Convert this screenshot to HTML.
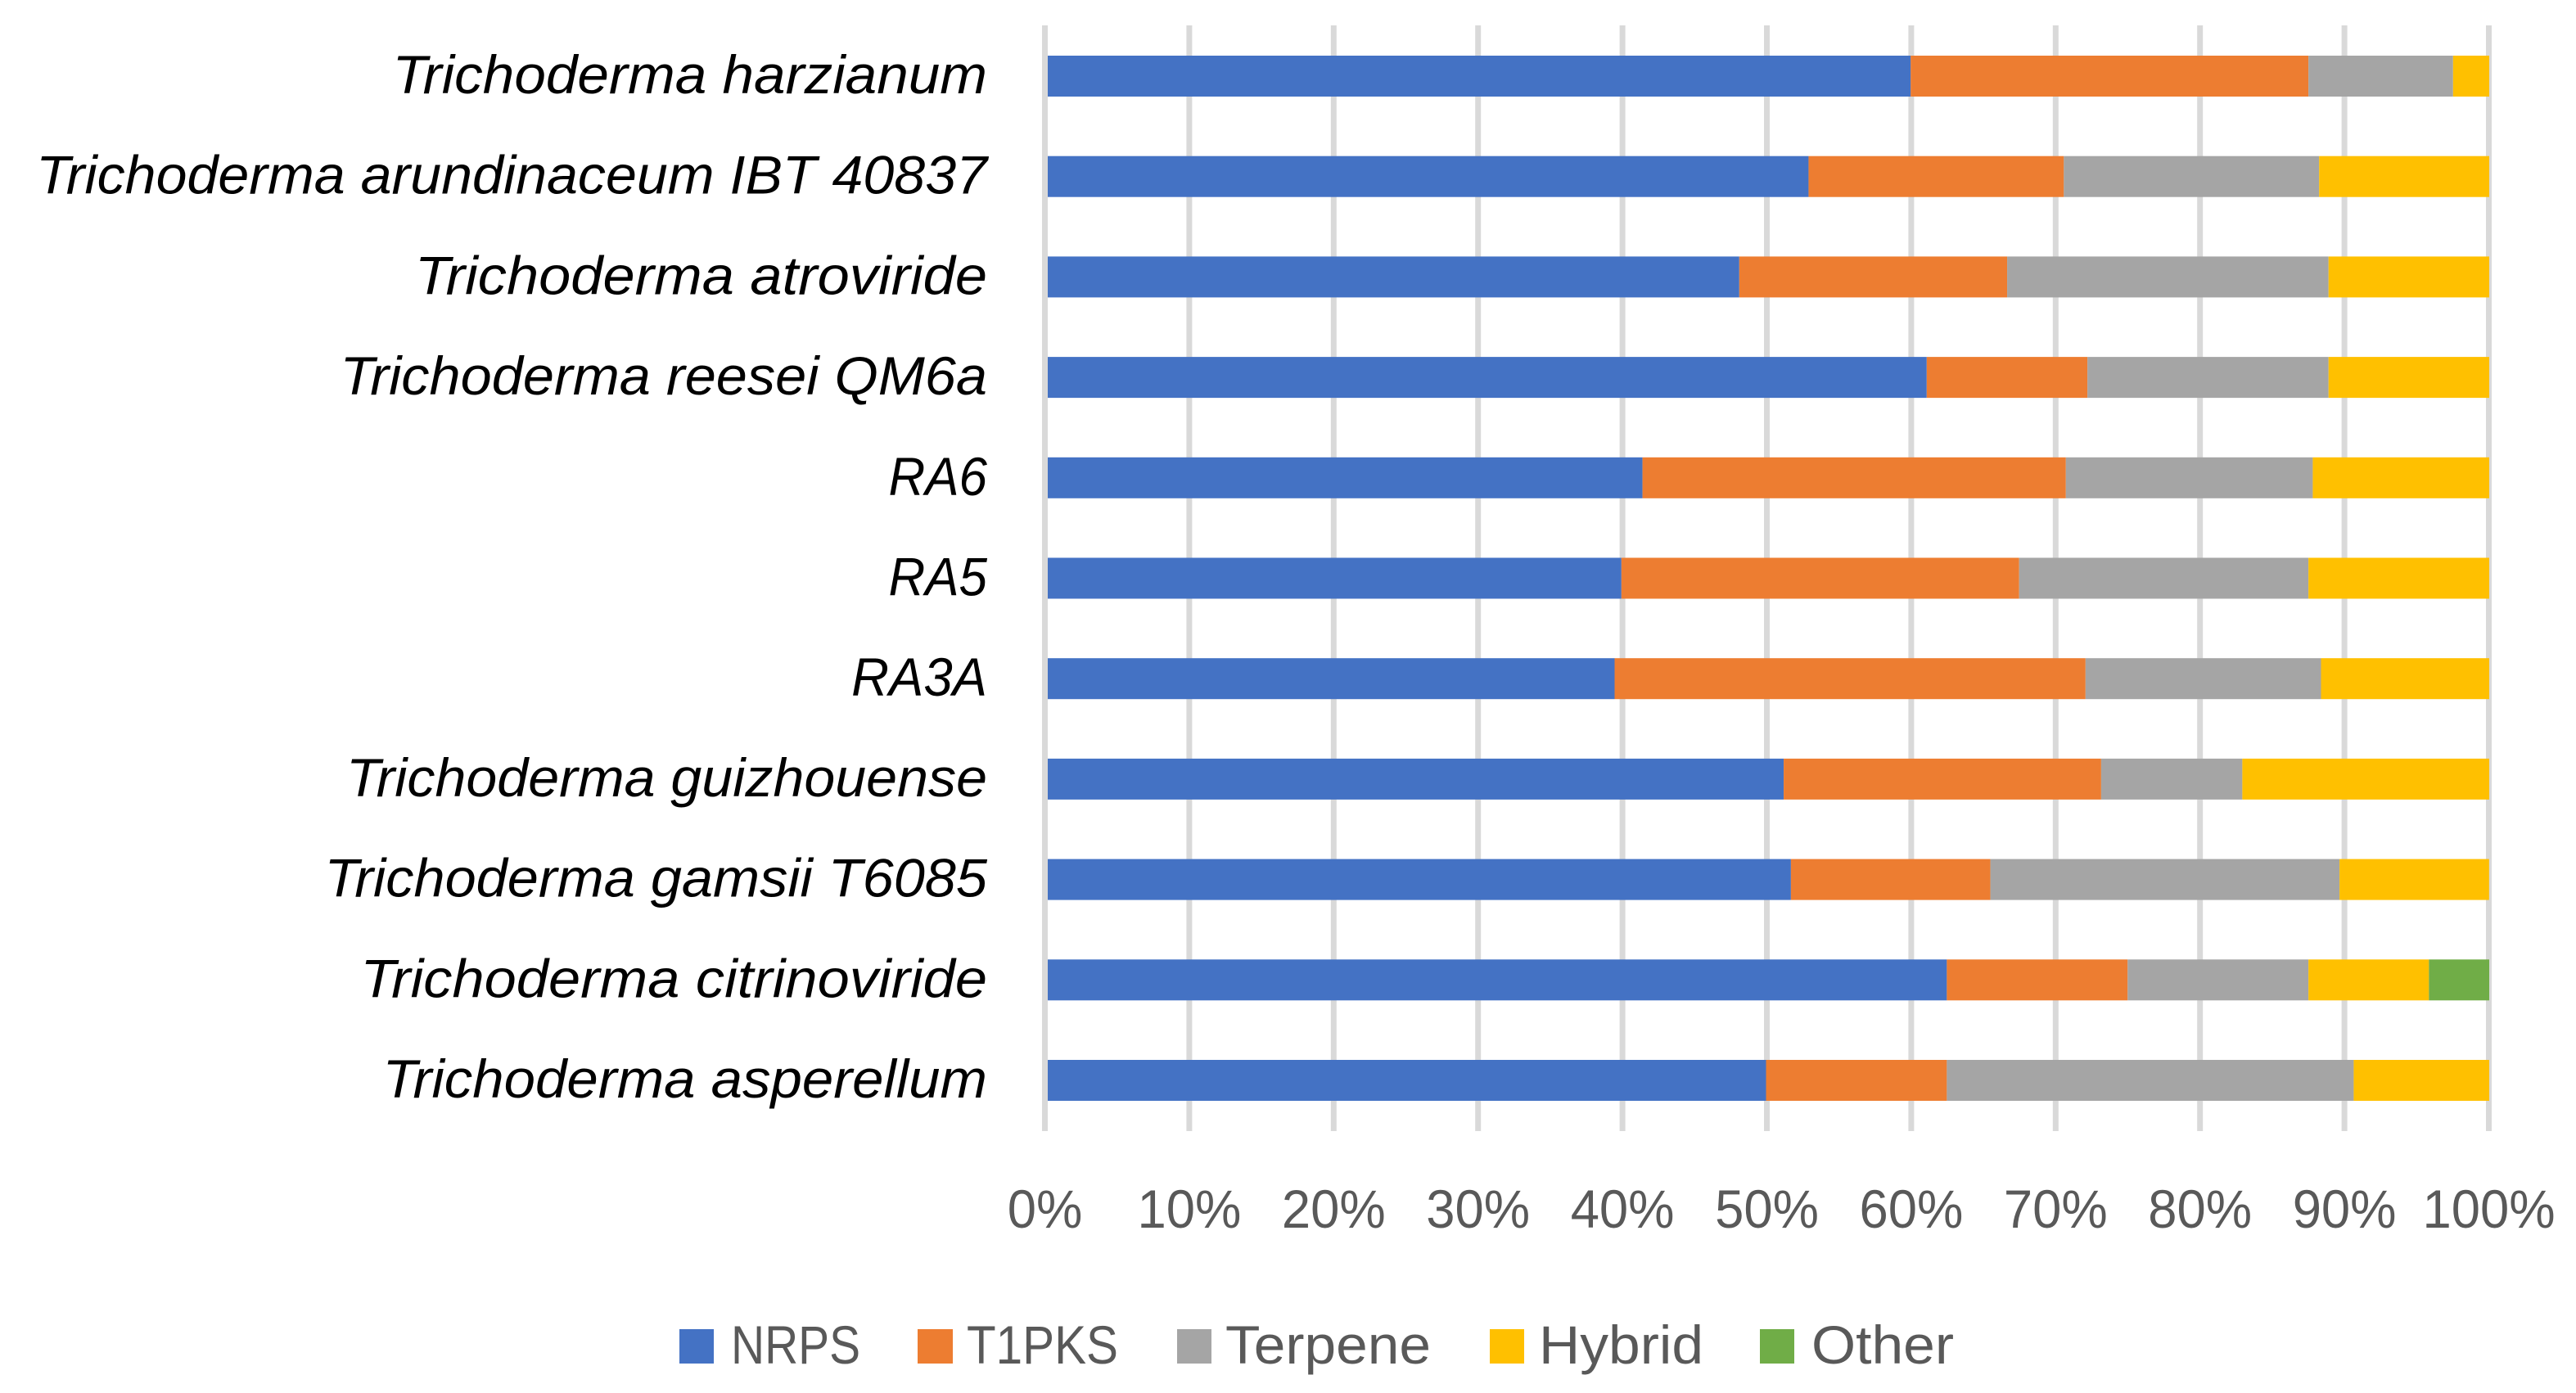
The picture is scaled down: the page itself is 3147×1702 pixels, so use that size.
<!DOCTYPE html>
<html lang="en">
<head>
<meta charset="utf-8">
<title>Biosynthetic gene cluster composition by Trichoderma strain</title>
<style>
  html, body { margin: 0; padding: 0; background: #ffffff; }
  svg { display: block; }
  text { font-family: "Liberation Sans", sans-serif; }
</style>
</head>
<body>
<svg id="chart" xmlns="http://www.w3.org/2000/svg" width="3147" height="1702" viewBox="0 0 3147 1702">
  <rect x="0" y="0" width="3147" height="1702" fill="#ffffff"/>
  <g id="gridlines"></g>
  <g id="bars"></g>
  <g id="axis-line"></g>
  <g id="category-labels"></g>
  <g id="value-labels"></g>
  <g font-size="66" fill="#595959">
    <g>
      <rect x="830" y="1624" width="42" height="42" fill="#4472c4"/>
      <text x="893" y="1666" textLength="158" lengthAdjust="spacingAndGlyphs">NRPS</text>
    </g>
    <g>
      <rect x="1121" y="1624" width="43" height="42" fill="#ed7d31"/>
      <text x="1181" y="1666" textLength="185" lengthAdjust="spacingAndGlyphs">T1PKS</text>
    </g>
    <g>
      <rect x="1438" y="1624" width="42" height="42" fill="#a5a5a5"/>
      <text x="1497" y="1666" textLength="251" lengthAdjust="spacingAndGlyphs">Terpene</text>
    </g>
    <g>
      <rect x="1820" y="1624" width="42" height="42" fill="#ffc000"/>
      <text x="1880" y="1666" textLength="201" lengthAdjust="spacingAndGlyphs">Hybrid</text>
    </g>
    <g>
      <rect x="2150" y="1624" width="42" height="42" fill="#70ad47"/>
      <text x="2213" y="1666" textLength="174" lengthAdjust="spacingAndGlyphs">Other</text>
    </g>
  </g>
</svg>
<script>
const categories = [
  "Trichoderma harzianum",
  "Trichoderma arundinaceum IBT 40837",
  "Trichoderma atroviride",
  "Trichoderma reesei QM6a",
  "RA6",
  "RA5",
  "RA3A",
  "Trichoderma guizhouense",
  "Trichoderma gamsii T6085",
  "Trichoderma citrinoviride",
  "Trichoderma asperellum"
];
const nrps    = [60.0, 52.94, 48.15, 61.11, 41.46, 40.0, 39.53, 51.22, 51.72, 62.5, 50.0];
const t1pks   = [27.5, 17.65, 18.52, 11.11, 29.27, 27.5, 32.56, 21.95, 13.79, 12.5, 12.5];
const terpene = [10.0, 17.65, 22.22, 16.67, 17.07, 20.0, 16.28, 9.76, 24.14, 12.5, 28.13];
const hybrid  = [2.5, 11.76, 11.11, 11.11, 12.2, 12.5, 11.63, 17.07, 10.34, 8.33, 9.37];
const other   = [0, 0, 0, 0, 0, 0, 0, 0, 0, 4.17, 0];
const tickValues = [0, 10, 20, 30, 40, 50, 60, 70, 80, 90, 100];
const tickLabels = ["0%", "10%", "20%", "30%", "40%", "50%", "60%", "70%", "80%", "90%", "100%"];

const SVG_NS = "http://www.w3.org/2000/svg";
const seriesList = [
  { key: "nrps", values: nrps, color: "#4472c4" },
  { key: "t1pks", values: t1pks, color: "#ed7d31" },
  { key: "terpene", values: terpene, color: "#a5a5a5" },
  { key: "hybrid", values: hybrid, color: "#ffc000" },
  { key: "other", values: other, color: "#70ad47" }
];

function xBar(v) { return 1274 + v * 17.67; }
function xGrid(v) { return 1276.5 + v * 17.64; }
function yBand(i) { return 68 + i * 122.7; }
const BAR_HEIGHT = 50;

/* Horizontal fit of the substitute font to the original label widths. */
function labelStretch(name) {
  const fit = {
    "Trichoderma harzianum": 1.05,
    "Trichoderma arundinaceum IBT 40837": 1.033,
    "Trichoderma atroviride": 1.067,
    "Trichoderma reesei QM6a": 1.038,
    "RA6": 0.939,
    "RA5": 0.939,
    "RA3A": 0.962,
    "Trichoderma guizhouense": 1.033,
    "Trichoderma gamsii T6085": 1.038,
    "Trichoderma citrinoviride": 1.067,
    "Trichoderma asperellum": 1.045
  };
  return fit[name] || 1.033;
}

const gridGroup = document.getElementById("gridlines");
const barGroup = document.getElementById("bars");
const axisGroup = document.getElementById("axis-line");
const catGroup = document.getElementById("category-labels");
const valGroup = document.getElementById("value-labels");

tickValues.forEach(function (v, i) {
  const line = document.createElementNS(SVG_NS, "rect");
  
  
  line.setAttribute("x", xGrid(v) - 3.5);
  line.setAttribute("y", 31);
  line.setAttribute("width", 7);
  line.setAttribute("height", 1351);
  line.setAttribute("fill", "#d9d9d9");
  (v === 0 ? axisGroup : gridGroup).appendChild(line);

  const label = document.createElementNS(SVG_NS, "text");
  
  
  label.setAttribute("transform", "translate(" + xGrid(v) + ",1500) scale(0.96,1)");
  label.setAttribute("text-anchor", "middle");
  label.setAttribute("font-size", 66);
  label.setAttribute("fill", "#595959");
  label.textContent = tickLabels[i];
  valGroup.appendChild(label);
});

categories.forEach(function (name, i) {
  const label = document.createElementNS(SVG_NS, "text");
  
  
  label.setAttribute("transform", "translate(1206," + (yBand(i) + 46) + ") scale(" + labelStretch(name) + ",1)");
  label.setAttribute("text-anchor", "end");
  label.setAttribute("font-size", 66);
  label.setAttribute("font-style", "italic");
  label.setAttribute("fill", "#000000");
  label.textContent = name;
  catGroup.appendChild(label);

  let cumulative = 0;
  seriesList.forEach(function (series) {
    const value = series.values[i];
    if (value > 0) {
      const bar = document.createElementNS(SVG_NS, "rect");
      
      
      bar.setAttribute("data-series", series.key);
      bar.setAttribute("x", xBar(cumulative));
      bar.setAttribute("y", yBand(i));
      bar.setAttribute("width", xBar(cumulative + value) - xBar(cumulative));
      bar.setAttribute("height", BAR_HEIGHT);
      bar.setAttribute("fill", series.color);
      barGroup.appendChild(bar);
    }
    cumulative += value;
  });
});
</script>
</body>
</html>
